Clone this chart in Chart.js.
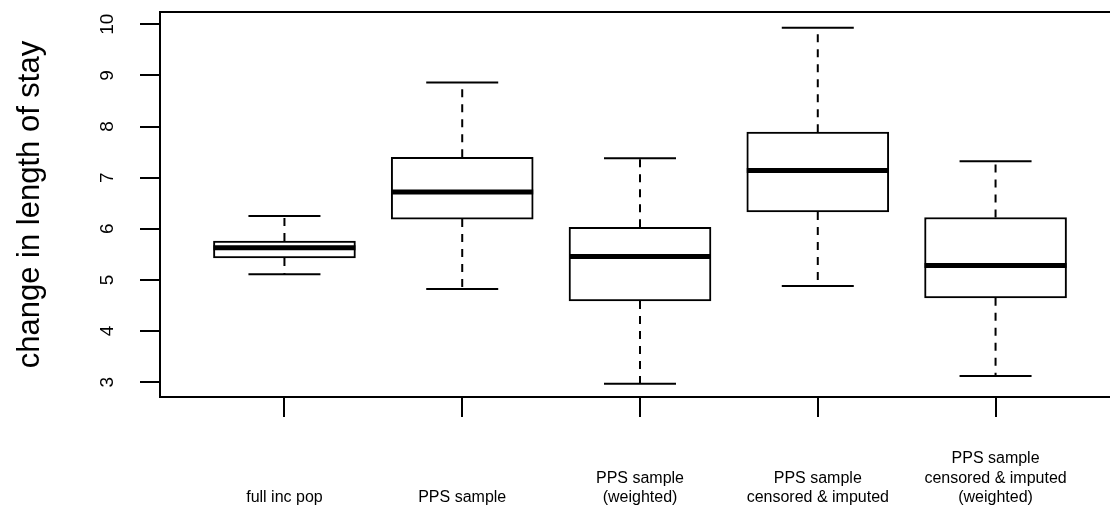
<!DOCTYPE html>
<html>
<head>
<meta charset="utf-8">
<script src="https://cdn.jsdelivr.net/npm/chart.js@4.4.1/dist/chart.umd.min.js"></script>
<style>
  html, body { margin: 0; padding: 0; background: #fff; overflow: hidden; width: 1110px; height: 508px; }
  canvas { display: block; }
</style>
</head>
<body>
<canvas id="boxChart" width="1120" height="508"></canvas>
<script>
// groups and their five-number summaries
const groupLabels = [
    ['full inc pop'],
    ['PPS sample'],
    ['PPS sample', '(weighted)'],
    ['PPS sample', 'censored & imputed'],
    ['PPS sample', 'censored & imputed', '(weighted)']
];
const groupPositions = [1, 2, 3, 4, 5];
const lowerWhisker = [5.11, 4.82, 2.97, 4.88, 3.12];
const lowerQuartile = [5.43, 6.19, 4.59, 6.33, 4.65];
const medians = [5.63, 6.72, 5.46, 7.14, 5.28];
const upperQuartile = [5.76, 7.40, 6.03, 7.89, 6.22];
const upperWhisker = [6.25, 8.86, 7.38, 9.93, 7.32];
const yTickValues = [3, 4, 5, 6, 7, 8, 9, 10];

const FONT = "'Liberation Sans', Arial, Helvetica, sans-serif";

// whisker segments, a null point between each to break the line
const whiskerPoints = [];
groupPositions.forEach((x, i) => {
    whiskerPoints.push({x: x, y: upperQuartile[i]}, {x: x, y: upperWhisker[i]}, {x: x, y: null});
    whiskerPoints.push({x: x, y: lowerQuartile[i]}, {x: x, y: lowerWhisker[i]}, {x: x, y: null});
});
const capPoints = [];
groupPositions.forEach((x, i) => {
    capPoints.push({x: x, y: upperWhisker[i]}, {x: x, y: lowerWhisker[i]});
});

function noPadding(scale) {
    scale.paddingTop = 0;
    scale.paddingBottom = 0;
    scale.paddingLeft = 0;
    scale.paddingRight = 0;
}

const frame = {
    id: 'frame',
    afterDraw(chart) {
        const a = chart.chartArea;
        const c = chart.ctx;
        c.save();
        c.strokeStyle = '#000';
        c.lineWidth = 2;
        c.strokeRect(a.left, a.top, a.right - a.left, a.bottom - a.top);
        c.restore();
    }
};

const ctx = document.getElementById('boxChart').getContext('2d');
new Chart(ctx, {
    type: 'bar',
    data: {
        datasets: [{
            type: 'line',
            label: 'medians',
            data: groupPositions.map((x, i) => ({x: x, y: medians[i]})),
            showLine: false,
            pointStyle: 'line',
            pointRadius: 71,
            pointBorderWidth: 5,
            pointBorderColor: '#000',
            order: 0
        }, {
            type: 'bar',
            label: 'boxes',
            data: groupPositions.map((x, i) => ({x: x, y: [lowerQuartile[i], upperQuartile[i]]})),
            backgroundColor: '#fff',
            borderColor: '#000',
            borderWidth: 2,
            borderSkipped: false,
            barThickness: 142,
            order: 1
        }, {
            type: 'line',
            label: 'caps',
            data: capPoints,
            showLine: false,
            pointStyle: 'line',
            pointRadius: 36,
            pointBorderWidth: 2,
            pointBorderColor: '#000',
            order: 2
        }, {
            type: 'line',
            label: 'whiskers',
            data: whiskerPoints,
            borderColor: '#000',
            borderWidth: 2,
            borderDash: [8, 7],
            pointRadius: 0,
            spanGaps: false,
            order: 3
        }]
    },
    options: {
        responsive: false,
        animation: false,
        layout: { autoPadding: false, padding: { top: 12, left: 0, right: 0, bottom: 0 } },
        plugins: {
            legend: { display: false },
            tooltip: { enabled: false }
        },
        scales: {
            x: {
                type: 'linear',
                min: 0.3,
                max: 5.7,
                offset: false,
                border: { display: false },
                grid: { display: true, offset: false, drawOnChartArea: false, drawTicks: true, tickLength: 20, color: '#000', lineWidth: 2 },
                afterBuildTicks: scale => { scale.ticks = groupPositions.map(v => ({value: v})); },
                afterFit: scale => { scale.height = 111; noPadding(scale); },
                ticks: {
                    autoSkip: false,
                    maxRotation: 0,
                    minRotation: 0,
                    crossAlign: 'far',
                    padding: 42,
                    color: '#000',
                    font: { family: FONT, size: 16, lineHeight: 1.2 },
                    callback: value => groupLabels[groupPositions.indexOf(value)]
                }
            },
            y: {
                type: 'linear',
                min: 2.71,
                max: 10.24,
                border: { display: false },
                grid: { display: true, drawOnChartArea: false, drawTicks: true, tickLength: 20, color: '#000', lineWidth: 2 },
                afterBuildTicks: scale => { scale.ticks = yTickValues.map(v => ({value: v})); },
                afterFit: scale => { scale.width = 160; noPadding(scale); },
                ticks: {
                    minRotation: 90,
                    maxRotation: 90,
                    crossAlign: 'center',
                    padding: 22,
                    color: '#000',
                    font: { family: FONT, size: 19 }
                },
                title: {
                    display: true,
                    text: 'change in length of stay',
                    color: '#000',
                    font: { family: FONT, size: 31 },
                    padding: { top: 12, bottom: 0 }
                }
            }
        }
    },
    plugins: [frame]
});
</script>
</body>
</html>
